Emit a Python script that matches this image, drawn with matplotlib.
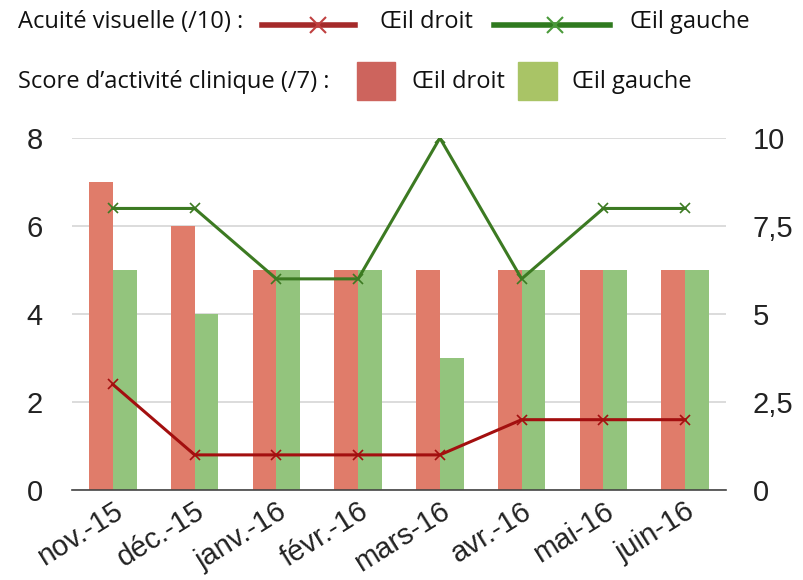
import numpy as np
import matplotlib.pyplot as plt
from matplotlib.patches import Rectangle
from matplotlib.lines import Line2D

mois = ['nov.-15', 'déc.-15', 'janv.-16', 'févr.-16', 'mars-16', 'avr.-16', 'mai-16', 'juin-16']
score_droit = [7, 6, 5, 5, 5, 5, 5, 5]     # score d'activité clinique (/7)
score_gauche = [5, 4, 5, 5, 3, 5, 5, 5]
acuite_droit = [3, 1, 1, 1, 1, 2, 2, 2]    # acuité visuelle (/10)
acuite_gauche = [8, 8, 6, 6, 10, 6, 8, 8]

plt.rcParams['font.family'] = ['Liberation Sans', 'DejaVu Sans']

fig = plt.figure(figsize=(8.04, 5.8), dpi=100)
ax = fig.add_axes([0.0896, 0.155, 0.8134, 0.607])
x = np.arange(len(mois))
w = 0.29

ax.bar(x - w / 2, score_droit, w, color='#e07c6a', zorder=2)
ax.bar(x + w / 2, score_gauche, w, color='#93c47d', zorder=2)
ax.set_ylim(0, 8)
ax.set_xlim(-0.5, len(mois) - 0.5)
ax.set_yticks([0, 2, 4, 6, 8])
ax.grid(axis='y', color='#d6d6d6', lw=1.2, zorder=0)
ax.set_axisbelow(True)
for s in ['top', 'left', 'right']:
    ax.spines[s].set_visible(False)
ax.spines['bottom'].set_color('#444444')
ax.spines['bottom'].set_linewidth(1.2)
ax.tick_params(axis='y', length=0, pad=21, labelsize=21, labelcolor='#222222')
ax.tick_params(axis='x', length=0, pad=5, labelsize=21, labelcolor='#222222')
ax.set_xticks(x)
ax.set_xticklabels(mois, rotation=32, ha='right', rotation_mode='anchor')

ax2 = ax.twinx()
ax2.set_ylim(0, 10)
ax2.set_yticks([0, 2.5, 5, 7.5, 10])
ax2.set_yticklabels(['0', '2,5', '5', '7,5', '10'])
for s in ax2.spines.values():
    s.set_visible(False)
ax2.tick_params(axis='y', length=0, pad=19, labelsize=21, labelcolor='#222222')
ax2.plot(x, acuite_droit, color='#a30f0f', lw=2.2, marker='x', ms=7, mew=1.2, zorder=3)
ax2.plot(x, acuite_gauche, color='#3c7a22', lw=2.2, marker='x', ms=7, mew=1.2, zorder=3)

# légende dessinée à la main en haut
lf = dict(fontsize=17, family=['Open Sans', 'DejaVu Sans'], color='#111111', va='center')
H, W = 580.0, 804.0
fig.text(18 / W, 1 - 22 / H, 'Acuité visuelle (/10) :', **lf)
fig.add_artist(Line2D([262 / W, 355 / W], [1 - 25 / H] * 2, color='#a52a2a', lw=4, transform=fig.transFigure))
fig.add_artist(Line2D([318 / W], [1 - 25 / H], color='#c04040', marker='x', ms=12, mew=1.5, transform=fig.transFigure))
fig.text(380 / W, 1 - 22 / H, 'Œil droit', **lf)
fig.add_artist(Line2D([494 / W, 610 / W], [1 - 25 / H] * 2, color='#2f7a1f', lw=4, transform=fig.transFigure))
fig.add_artist(Line2D([555 / W], [1 - 25 / H], color='#4a9a3a', marker='x', ms=12, mew=1.5, transform=fig.transFigure))
fig.text(630 / W, 1 - 22 / H, 'Œil gauche', **lf)

fig.text(18 / W, 1 - 82 / H, 'Score d\u2019activité clinique (/7) :', **lf)
fig.add_artist(Rectangle((357 / W, 1 - 100 / H), 38 / W, 38 / H, color='#cd645d', transform=fig.transFigure))
fig.text(412 / W, 1 - 82 / H, 'Œil droit', **lf)
fig.add_artist(Rectangle((518 / W, 1 - 100 / H), 39 / W, 38 / H, color='#a9c466', transform=fig.transFigure))
fig.text(572 / W, 1 - 82 / H, 'Œil gauche', **lf)

fig.savefig('out.png', dpi=100)
